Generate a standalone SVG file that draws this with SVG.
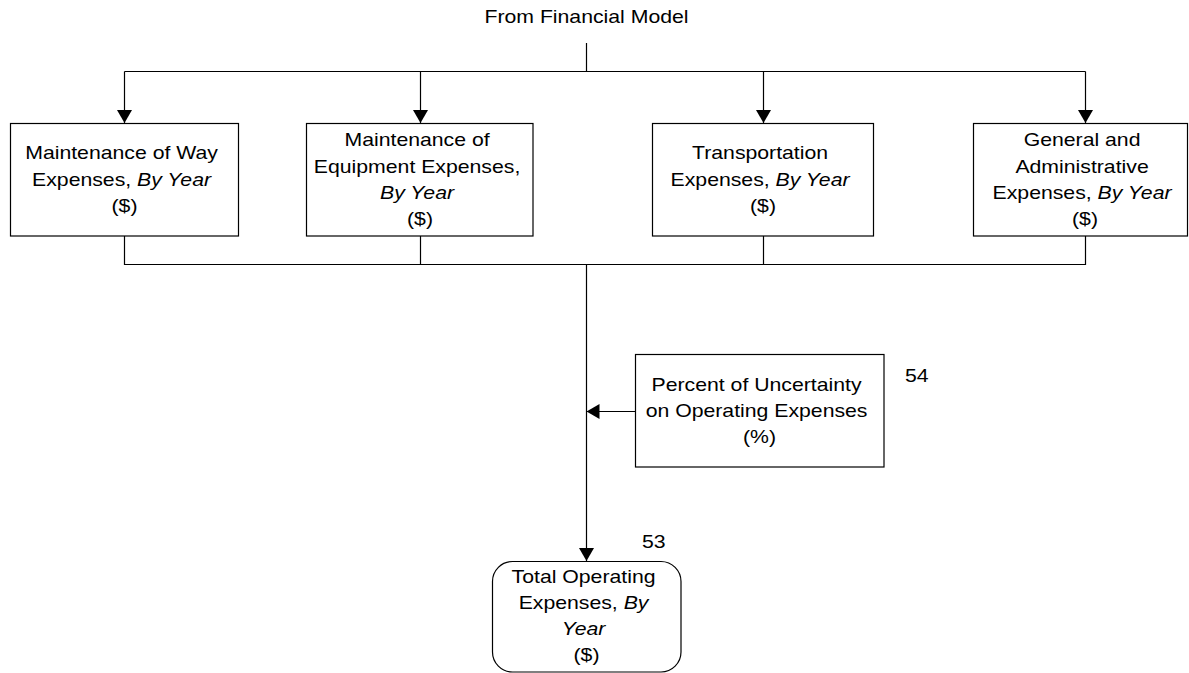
<svg xmlns="http://www.w3.org/2000/svg" width="1189" height="673" viewBox="0 0 1189 673">
  <defs>
    <marker id="arrow" viewBox="0 0 13 15" refX="13" refY="7.5" markerWidth="13" markerHeight="15" markerUnits="userSpaceOnUse" orient="auto">
      <path d="M0,0 L13,7.5 L0,15 Z" fill="#000"/>
    </marker>
    <style>
      .box { fill: #fff; stroke: #000; stroke-width: 1.2; }
      .wire { fill: none; stroke: #000; stroke-width: 1.2; }
      .t { font-family: "Liberation Sans", Arial, sans-serif; font-size: 18px; fill: #000; text-anchor: middle; }
      .n { font-family: "Liberation Sans", Arial, sans-serif; font-size: 18px; fill: #000; }
      .i { font-style: italic; }
    </style>
  </defs>
  <rect width="1189" height="673" fill="#fff"/>

  <text class="t" transform="translate(586.5,0) scale(1.18,1)"><tspan x="0" y="23.5">From Financial Model</tspan></text>

  <g id="connectors">
    <path class="wire" d="M586.5,43 V71.5"/>
    <path class="wire" d="M124.5,71.5 H1085.5"/>
    <path class="wire" d="M124.5,71.5 V123" marker-end="url(#arrow)"/>
    <path class="wire" d="M420.5,71.5 V123" marker-end="url(#arrow)"/>
    <path class="wire" d="M763.5,71.5 V123" marker-end="url(#arrow)"/>
    <path class="wire" d="M1085.5,71.5 V123" marker-end="url(#arrow)"/>
    <path class="wire" d="M124.5,236 V264.5 H1085.5 V236"/>
    <path class="wire" d="M420.5,236 V264.5"/>
    <path class="wire" d="M763.5,236 V264.5"/>
    <path class="wire" d="M586.5,264.5 V561" marker-end="url(#arrow)"/>
    <path class="wire" d="M635,411.5 H586.5" marker-end="url(#arrow)"/>
  </g>

  <g id="maintenance-way">
    <rect class="box" x="10.5" y="123.5" width="228" height="112.5"/>
    <text class="t" transform="translate(124.5,0) scale(1.18,1)">
      <tspan x="0" y="159.5">Maintenance of Way</tspan>
      <tspan x="0" y="186">Expenses, <tspan class="i">By Year</tspan></tspan>
      <tspan x="0" y="212.5">($)</tspan>
    </text>
  </g>

  <g id="maintenance-equipment">
    <rect class="box" x="306.5" y="123.5" width="226.5" height="112.5"/>
    <text class="t" transform="translate(420,0) scale(1.18,1)">
      <tspan x="0" y="146.5">Maintenance of</tspan>
      <tspan x="0" y="173">Equipment Expenses,</tspan>
      <tspan x="0" y="199" class="i">By Year</tspan>
      <tspan x="0" y="225">($)</tspan>
    </text>
  </g>

  <g id="transportation">
    <rect class="box" x="652.5" y="123.5" width="221" height="112.5"/>
    <text class="t" transform="translate(763,0) scale(1.18,1)">
      <tspan x="0" y="159.5">Transportation</tspan>
      <tspan x="0" y="186">Expenses, <tspan class="i">By Year</tspan></tspan>
      <tspan x="0" y="212.5">($)</tspan>
    </text>
  </g>

  <g id="general-admin">
    <rect class="box" x="973.5" y="123.5" width="214" height="112.5"/>
    <text class="t" transform="translate(1085,0) scale(1.18,1)">
      <tspan x="0" y="146.5">General and</tspan>
      <tspan x="0" y="173">Administrative</tspan>
      <tspan x="0" y="199">Expenses, <tspan class="i">By Year</tspan></tspan>
      <tspan x="0" y="225">($)</tspan>
    </text>
  </g>

  <g id="uncertainty">
    <rect class="box" x="635.5" y="354.5" width="248.5" height="112.5"/>
    <text class="t" transform="translate(759.5,0) scale(1.18,1)">
      <tspan x="0" y="391.5">Percent of Uncertainty</tspan>
      <tspan x="0" y="417.5">on Operating Expenses</tspan>
      <tspan x="0" y="443.5">(%)</tspan>
    </text>
    <text class="n" transform="translate(905,0) scale(1.18,1)"><tspan x="0" y="382">54</tspan></text>
  </g>

  <g id="total-operating">
    <rect class="box" x="492.5" y="561.5" width="188.5" height="110.5" rx="20" ry="20"/>
    <text class="t" transform="translate(586.5,0) scale(1.18,1)">
      <tspan x="0" y="583">Total Operating</tspan>
      <tspan x="0" y="609">Expenses, <tspan class="i">By</tspan></tspan>
      <tspan x="0" y="635" class="i">Year</tspan>
      <tspan x="0" y="661">($)</tspan>
    </text>
    <text class="n" transform="translate(642,0) scale(1.18,1)"><tspan x="0" y="548">53</tspan></text>
  </g>
</svg>
